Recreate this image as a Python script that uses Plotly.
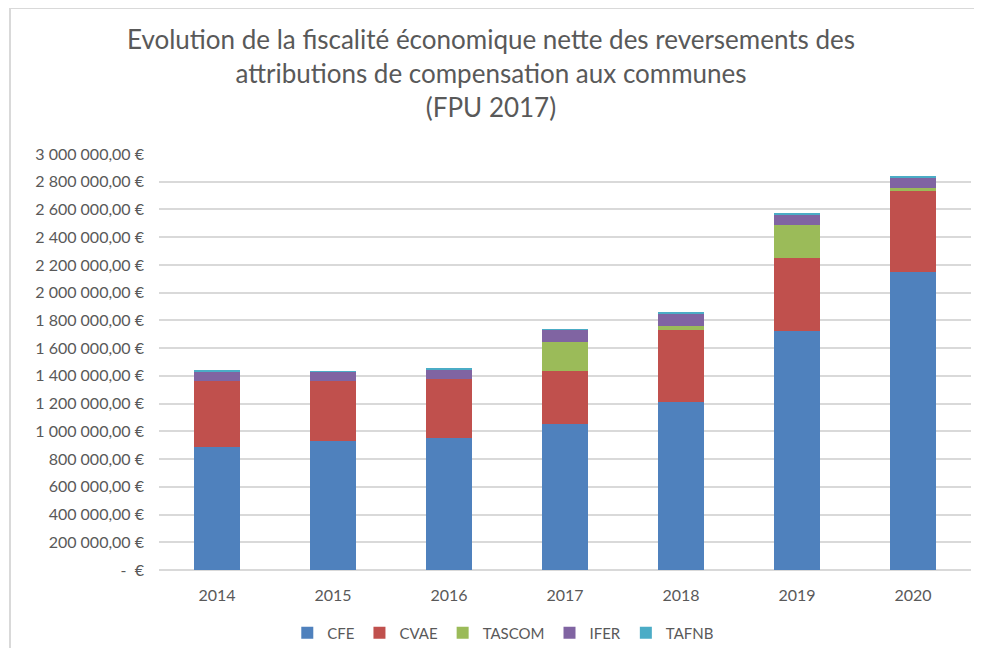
import plotly.graph_objects as go

years = ["2014", "2015", "2016", "2017", "2018", "2019", "2020"]

cfe = [887000, 930000, 954000, 1053000, 1214000, 1724000, 2147000]
cvae = [476000, 433000, 423000, 382000, 517000, 528000, 586000]
tascom = [0, 0, 0, 209000, 29000, 234000, 22000]
ifer = [72000, 65000, 70000, 87000, 91000, 79000, 79000]
tafnb = [3000, 3000, 3000, 7000, 7000, 7000, 7000]

tick_vals = list(range(0, 3000001, 200000))


def euro(v):
    if v == 0:
        return "-  €"
    s = f"{v:,}".replace(",", " ")
    return f"{s},00 €"


tick_text = [euro(v) for v in tick_vals]

series = [
    ("CFE", cfe, "#4F81BD"),
    ("CVAE", cvae, "#C0504D"),
    ("TASCOM", tascom, "#9BBB59"),
    ("IFER", ifer, "#8064A2"),
    ("TAFNB", tafnb, "#4BACC6"),
]

fig = go.Figure()
for name, vals, color in series:
    fig.add_trace(go.Bar(name=name, x=years, y=vals, marker_color=color,
                         marker_line_width=0))

grey = "#595959"
# page has an 8px body margin, so the figure is laid out 8px in from the edges
fig.update_layout(
    barmode="stack",
    bargap=0.595,
    width=966,
    height=640,
    margin=dict(l=151, r=3, t=146, b=78),
    paper_bgcolor="white",
    plot_bgcolor="white",
    font=dict(family="Lato, sans-serif", color=grey, size=16),
    title=dict(
        text="Evolution de la fiscalité économique nette des reversements des<br>"
             "attributions de compensation aux communes<br>(FPU 2017)",
        x=0.5, xanchor="center", yref="container", y=1 - 41 / 640, yanchor="top",
        font=dict(size=26, color=grey),
    ),
    legend=dict(
        orientation="h", x=0.424, xanchor="center",
        yref="container", y=1 - 625 / 640, yanchor="middle",
        font=dict(size=15, color=grey), itemwidth=30, traceorder="normal",
    ),
    showlegend=True,
)
fig.update_yaxes(
    range=[0, 3000000], tickvals=tick_vals, ticktext=tick_text,
    showgrid=True, gridcolor="#D9D9D9", gridwidth=1.5, zeroline=True,
    zerolinecolor="#D9D9D9", zerolinewidth=1.5, ticks="", ticklabelstandoff=14,
    tickfont=dict(size=16, color=grey), automargin=False,
)
fig.update_xaxes(
    tickfont=dict(size=16, color=grey), ticks="", showline=False,
    ticklabelstandoff=14, automargin=False,
)

# outer chart border (left and top visible)
fig.add_shape(type="line", xref="paper", yref="paper",
              x0=(10 - 159) / 812, x1=(10 - 159) / 812,
              y0=(570 - 8) / 416, y1=(570 - 680) / 416,
              line=dict(color="#D9D9D9", width=2))
fig.add_shape(type="line", xref="paper", yref="paper",
              x0=(10 - 159) / 812, x1=(995 - 159) / 812,
              y0=(570 - 8) / 416, y1=(570 - 8) / 416,
              line=dict(color="#D9D9D9", width=2))

fig.write_html("out.html")
